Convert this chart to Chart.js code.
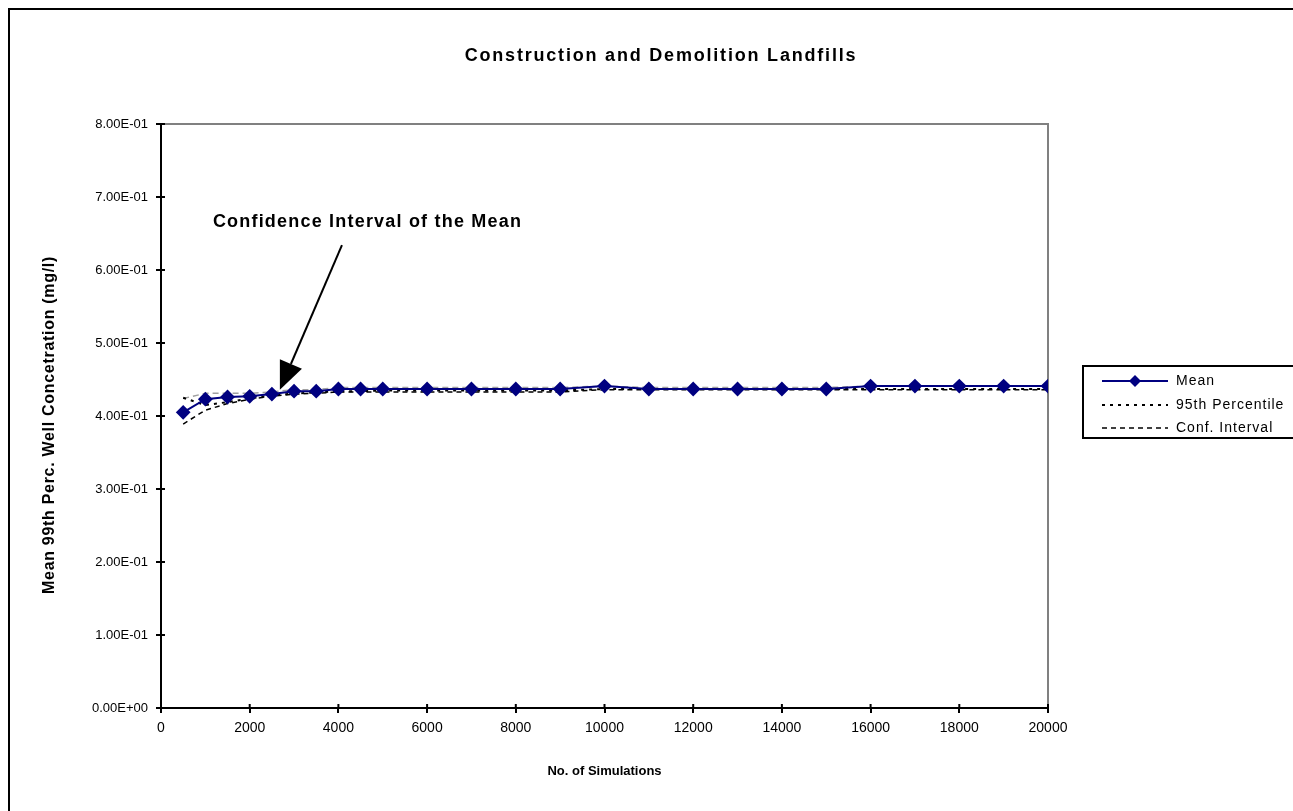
<!DOCTYPE html>
<html>
<head>
<meta charset="utf-8">
<script src="https://cdn.jsdelivr.net/npm/chart.js@4.4.1/dist/chart.umd.min.js"></script>
<style>
  html, body { margin: 0; padding: 0; background: #fff; }
  #wrap { width: 1293px; height: 811px; }
</style>
</head>
<body>
<div id="wrap"><canvas id="chart"></canvas></div>
<script>
const simulations = [500, 1000, 1500, 2000, 2500, 3000, 3500, 4000, 4500, 5000, 6000, 7000, 8000, 9000, 10000, 11000, 12000, 13000, 14000, 15000, 16000, 17000, 18000, 19000, 20000];
const meanValues = [0.405, 0.423, 0.426, 0.427, 0.430, 0.434, 0.434, 0.437, 0.437, 0.437, 0.437, 0.437, 0.437, 0.437, 0.441, 0.437, 0.437, 0.437, 0.437, 0.437, 0.441, 0.441, 0.441, 0.441, 0.441];
const pct95Values = [0.425, 0.415, 0.419, 0.424, 0.428, 0.431, 0.432, 0.434, 0.434, 0.435, 0.435, 0.435, 0.435, 0.435, 0.437, 0.437, 0.437, 0.437, 0.437, 0.437, 0.437, 0.437, 0.437, 0.437, 0.437];
const confLowValues = [0.389, 0.408, 0.417, 0.423, 0.427, 0.430, 0.431, 0.433, 0.433, 0.433, 0.433, 0.433, 0.433, 0.433, 0.436, 0.436, 0.436, 0.436, 0.436, 0.436, 0.436, 0.436, 0.436, 0.436, 0.436];
const confHighValues = [0.424, 0.431, 0.431, 0.431, 0.433, 0.436, 0.436, 0.439, 0.439, 0.439, 0.439, 0.439, 0.439, 0.439, 0.441, 0.439, 0.439, 0.439, 0.439, 0.439, 0.441, 0.441, 0.441, 0.441, 0.441];
const xTicks = [0, 2000, 4000, 6000, 8000, 10000, 12000, 14000, 16000, 18000, 20000];
const yTickLabels = ['0.00E+00', '1.00E-01', '2.00E-01', '3.00E-01', '4.00E-01', '5.00E-01', '6.00E-01', '7.00E-01', '8.00E-01'];
const legendLabels = ['Mean', '95th Percentile', 'Conf. Interval'];

const FONT = '"Liberation Sans", Arial, sans-serif';

function pts(values) {
  return simulations.map((x, i) => ({ x: x, y: values[i] }));
}

// frame, titles, arrow note and legend box
const decor = {
  id: 'decor',
  beforeDatasetsDraw(chart) {
    const ctx = chart.ctx, a = chart.chartArea;
    const xs = chart.scales.x, ys = chart.scales.y;
    ctx.save();
    ctx.strokeStyle = '#808080';
    ctx.lineWidth = 2;
    ctx.beginPath();
    ctx.moveTo(a.left, a.top);
    ctx.lineTo(a.right, a.top);
    ctx.lineTo(a.right, a.bottom);
    ctx.stroke();
    // inner half of the crossing tick marks
    ctx.strokeStyle = '#000';
    ctx.beginPath();
    xs.ticks.forEach(t => {
      const px = xs.getPixelForValue(t.value);
      ctx.moveTo(px, a.bottom);
      ctx.lineTo(px, a.bottom - 4);
    });
    ys.ticks.forEach(t => {
      const py = ys.getPixelForValue(t.value);
      ctx.moveTo(a.left, py);
      ctx.lineTo(a.left + 4, py);
    });
    ctx.stroke();
    ctx.restore();
  },
  afterDraw(chart) {
    const ctx = chart.ctx;
    const xs = chart.scales.x, ys = chart.scales.y;
    ctx.save();
    // outer border
    ctx.strokeStyle = '#000';
    ctx.lineWidth = 2;
    ctx.strokeRect(9, 9, 1320, 840);

    // chart title
    ctx.fillStyle = '#000';
    ctx.font = 'bold 18px ' + FONT;
    ctx.letterSpacing = '1.8px';
    ctx.textAlign = 'center';
    ctx.textBaseline = 'middle';
    ctx.fillText('Construction and Demolition Landfills', 661, 56);

    // y axis title
    ctx.save();
    ctx.translate(50, 425);
    ctx.rotate(-Math.PI / 2);
    ctx.font = 'bold 16px ' + FONT;
    ctx.letterSpacing = '0.7px';
    ctx.fillText('Mean 99th Perc. Well Concetration (mg/l)', 0, 0);
    ctx.restore();

    // annotation
    ctx.font = 'bold 18px ' + FONT;
    ctx.letterSpacing = '1.2px';
    ctx.textAlign = 'left';
    ctx.fillText('Confidence Interval of the Mean', xs.getPixelForValue(1170), ys.getPixelForValue(0.666));
    ctx.letterSpacing = '0px';
    const tx = xs.getPixelForValue(4080), ty = ys.getPixelForValue(0.634);
    const hx = xs.getPixelForValue(2680), hy = ys.getPixelForValue(0.436);
    const ang = Math.atan2(hy - ty, hx - tx);
    const len = 28, half = 12;
    const bx = hx - len * Math.cos(ang), by = hy - len * Math.sin(ang);
    ctx.strokeStyle = '#000';
    ctx.lineWidth = 2;
    ctx.beginPath();
    ctx.moveTo(tx, ty);
    ctx.lineTo(bx, by);
    ctx.stroke();
    ctx.beginPath();
    ctx.moveTo(hx, hy);
    ctx.lineTo(bx + half * Math.sin(ang), by - half * Math.cos(ang));
    ctx.lineTo(bx - half * Math.sin(ang), by + half * Math.cos(ang));
    ctx.closePath();
    ctx.fill();

    // legend
    ctx.lineWidth = 2;
    ctx.strokeStyle = '#000';
    ctx.strokeRect(1083, 366, 240, 72);
    const rows = [381, 405, 428];
    ctx.font = '14px ' + FONT;
    ctx.letterSpacing = '1px';
    legendLabels.forEach((lab, i) => {
      const ds = chart.data.datasets[i];
      const y = rows[i];
      ctx.save();
      ctx.strokeStyle = ds.borderColor;
      ctx.lineWidth = ds.borderWidth;
      ctx.setLineDash(ds.borderDash || []);
      ctx.beginPath();
      ctx.moveTo(1102, y);
      ctx.lineTo(1168, y);
      ctx.stroke();
      ctx.restore();
      if (ds.pointRadius > 0) {
        ctx.fillStyle = ds.pointBackgroundColor;
        const r = ds.pointRadius;
        ctx.beginPath();
        ctx.moveTo(1135, y - r);
        ctx.lineTo(1135 + r, y);
        ctx.lineTo(1135, y + r);
        ctx.lineTo(1135 - r, y);
        ctx.closePath();
        ctx.fill();
      }
      ctx.fillStyle = '#000';
      ctx.textAlign = 'left';
      ctx.fillText(lab, 1176, y);
    });
    ctx.restore();
  }
};

new Chart(document.getElementById('chart').getContext('2d'), {
  type: 'line',
  data: {
    datasets: [{
      label: legendLabels[0],
      data: pts(meanValues),
      borderColor: '#000080',
      backgroundColor: '#000080',
      pointBackgroundColor: '#000080',
      pointBorderColor: '#000080',
      pointStyle: 'rectRot',
      pointRadius: 6,
      borderWidth: 2,
      order: 0
    }, {
      label: legendLabels[1],
      data: pts(pct95Values),
      borderColor: '#000',
      borderDash: [3, 5],
      borderWidth: 2,
      pointRadius: 0,
      order: 1
    }, {
      label: legendLabels[2],
      data: pts(confLowValues),
      borderColor: '#000',
      borderDash: [5, 4],
      borderWidth: 1.5,
      pointRadius: 0,
      order: 2
    }, {
      label: 'Conf. Interval (upper)',
      data: pts(confHighValues),
      borderColor: '#a0a0a0',
      borderDash: [6, 4],
      borderWidth: 1.5,
      pointRadius: 0,
      order: 3
    }]
  },
  options: {
    responsive: true,
    maintainAspectRatio: false,
    animation: false,
    layout: { padding: { left: 28, right: 245, top: 124, bottom: 32 } },
    plugins: {
      legend: { display: false },
      tooltip: { enabled: false }
    },
    scales: {
      x: {
        type: 'linear',
        min: 0,
        max: 20000,
        afterBuildTicks(s) { s.ticks = xTicks.map(v => ({ value: v })); },
        afterFit(s) { s.height = 811 - 32 - 708; },
        ticks: { color: '#000', font: { family: FONT, size: 14 }, padding: 7, maxRotation: 0, callback: v => String(v) },
        grid: { drawOnChartArea: false, drawTicks: true, tickLength: 5, color: '#000', lineWidth: 2 },
        border: { display: true, color: '#000', width: 2 },
        title: { display: true, text: 'No. of Simulations', color: '#000', font: { family: FONT, size: 13, weight: 'bold' }, padding: { top: 12, bottom: 0 } }
      },
      y: {
        min: 0,
        max: 0.8,
        ticks: {
          stepSize: 0.1,
          color: '#000',
          font: { family: FONT, size: 13 },
          padding: 8,
          callback: (v, i) => yTickLabels[i]
        },
        afterFit(s) { s.width = 161 - 28; },
        grid: { drawOnChartArea: false, drawTicks: true, tickLength: 5, color: '#000', lineWidth: 2 },
        border: { display: true, color: '#000', width: 2 }
      }
    }
  },
  plugins: [decor]
});
</script>
</body>
</html>
